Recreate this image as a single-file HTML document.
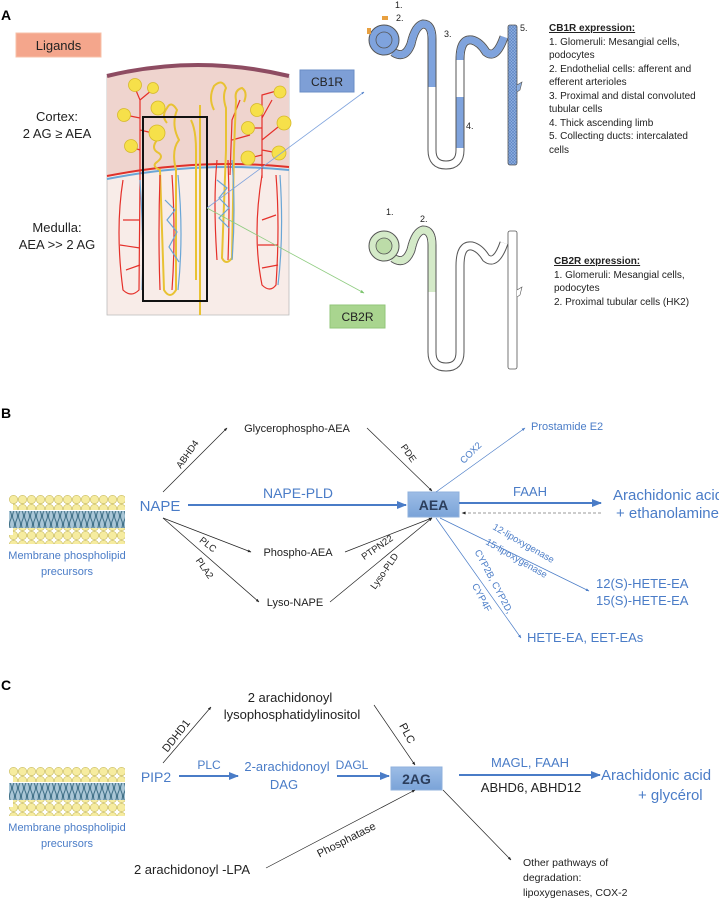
<!DOCTYPE html>
<html><head><meta charset="utf-8"><style>
html,body{margin:0;padding:0;background:#fff;}
svg{display:block;font-family:"Liberation Sans",sans-serif;}
</style></head><body>
<svg width="719" height="899" viewBox="0 0 719 899" xmlns="http://www.w3.org/2000/svg">
<defs>
<marker id="ab" viewBox="0 0 10 10" refX="9" refY="5" markerWidth="5" markerHeight="5" orient="auto"><path d="M0,1 L10,5 L0,9 z" fill="#222"/></marker>
<marker id="abl" viewBox="0 0 10 10" refX="9" refY="5" markerWidth="5" markerHeight="5" orient="auto"><path d="M0,1 L10,5 L0,9 z" fill="#4a7cc7"/></marker>
<marker id="abl2" viewBox="0 0 10 10" refX="9" refY="5" markerWidth="3.5" markerHeight="3.5" orient="auto"><path d="M0,1 L10,5 L0,9 z" fill="#4a7cc7"/></marker>
<marker id="ag" viewBox="0 0 10 10" refX="9" refY="5" markerWidth="5" markerHeight="5" orient="auto"><path d="M0,1 L10,5 L0,9 z" fill="#7cc46e"/></marker>
<pattern id="heads" width="9" height="9" patternUnits="userSpaceOnUse"><circle cx="4.5" cy="4.5" r="4.2" fill="#f6eca0" stroke="#c8bb60" stroke-width="0.6"/></pattern>
<pattern id="tails" width="6" height="17" patternUnits="userSpaceOnUse"><rect width="6" height="17" fill="#a9c6d6"/><path d="M1.5,0 q2,4 0,8 q-2,4 0,9 M4.5,0 q-2,4 0,8 q2,4 0,9" stroke="#3f6f86" stroke-width="1" fill="none"/></pattern>
<pattern id="hatch" width="3" height="3" patternUnits="userSpaceOnUse"><rect width="3" height="3" fill="#8fb0e0"/><path d="M0,0 L3,3 M3,0 L0,3" stroke="#5b82c2" stroke-width="0.6"/></pattern>
<linearGradient id="gbox" x1="0" y1="0" x2="0" y2="1"><stop offset="0" stop-color="#9dbde6"/><stop offset="1" stop-color="#7aa3d8"/></linearGradient>
<g id="mem">
<rect x="0" y="0" width="116" height="9" fill="url(#heads)"/>
<rect x="4" y="6" width="112" height="9" fill="url(#heads)"/>
<rect x="0" y="16" width="116" height="17" fill="url(#tails)"/>
<rect x="4" y="33" width="112" height="9" fill="url(#heads)"/>
<rect x="0" y="40" width="116" height="9" fill="url(#heads)"/>
</g>
</defs>

<!-- ============ SECTION A ============ -->
<text x="1" y="20" font-size="14" font-weight="bold">A</text>
<rect x="16" y="33" width="85" height="24" fill="#f4a68c" stroke="#f7c0a8"/>
<text x="58.5" y="50" font-size="13" text-anchor="middle" fill="#222">Ligands</text>
<text x="57" y="121" font-size="13" text-anchor="middle" fill="#222">Cortex:</text>
<text x="57" y="138" font-size="13" text-anchor="middle" fill="#222">2 AG ≥ AEA</text>
<text x="57" y="232" font-size="13" text-anchor="middle" fill="#222">Medulla:</text>
<text x="57" y="249" font-size="13" text-anchor="middle" fill="#222">AEA &gt;&gt; 2 AG</text>

<path d="M107,76 Q198,54 289,76 L289,315 L107,315 Z" fill="#f8ece8" stroke="#bbb" stroke-width="0.8"/>
<path d="M107,76 Q198,54 289,76 L289,168 Q198,160 107,177 Z" fill="#efd4ce"/>
<path d="M107,76 Q198,54 289,76" stroke="#8e4c62" stroke-width="4" fill="none"/>
<path d="M107,176 Q198,158 289,167" stroke="#e0312a" stroke-width="2" fill="none"/>
<path d="M107,179 Q198,161 289,170" stroke="#6aa6d6" stroke-width="2" fill="none"/>
<g stroke="#e5302a" stroke-width="1.2" fill="none">
<path d="M140,180 L140,100 L135,88 M140,100 L152,90 M140,118 L125,115 M140,130 L157,134 M140,150 L131,147"/>
<path d="M262,178 L262,95 L280,90 M262,110 L256,110 M262,128 L249,128 M262,140 L283,123 M262,155 L249,158 M262,150 L278,153 M262,118 L272,100"/>
<path d="M230,175 L232,120 L240,100 M232,140 L250,135"/>
</g>
<g stroke="#e8c233" stroke-width="2" fill="none">
<path d="M157,140 q-6,8 0,12 q8,4 0,10 q-6,4 3,8 L164,290 q6,10 12,0 L176,170 q-5,-20 3,-30 q-8,-15 -2,-30 q-6,-10 -10,-2 q-6,8 0,15"/>
<path d="M196,280 L196,150 q0,-20 -5,-30 M200,315 L200,105"/>
<path d="M214,110 q-6,-12 0,-24 q8,-8 12,2 q-4,8 0,20 L226,150 L222,258 q4,8 10,0 L234,150 L236,100 q-2,-10 6,-12 q6,4 2,14"/>
</g>
<g fill="#f6e04a" stroke="#d6b92a" stroke-width="0.8">
<circle cx="135" cy="85" r="6.5"/><circle cx="153" cy="88" r="5.5"/><circle cx="124" cy="115" r="6.5"/><circle cx="158" cy="108" r="7"/>
<circle cx="157" cy="133" r="8"/><circle cx="131" cy="146" r="6.5"/><circle cx="280" cy="92" r="6"/><circle cx="257" cy="110" r="6.5"/>
<circle cx="248" cy="128" r="6.5"/><circle cx="284" cy="123" r="7"/><circle cx="248" cy="158" r="7"/><circle cx="279" cy="153" r="7"/>
</g>
<g fill="none" stroke-width="1.2">
<path d="M123,180 q-8,50 0,110 q8,8 16,0 L140,180" stroke="#e5302a"/>
<path d="M140,180 q4,60 2,110" stroke="#6aa6d6"/>
<path d="M123,220 L140,220 M120,245 L140,248 M126,270 L140,265" stroke="#e5302a"/>
<path d="M160,175 q-2,60 0,115 M172,175 q4,60 0,115" stroke="#e5302a"/>
<path d="M178,175 q6,60 0,115 M165,200 l10,10 l-8,10 l10,12 l-8,15 l10,15" stroke="#6aa6d6"/>
<path d="M217,160 q-4,40 0,100 M228,160 q2,50 0,100" stroke="#e5302a"/>
<path d="M232,160 q4,50 0,100 M217,180 l10,8 l-8,10 l10,10 l-10,10 l10,10" stroke="#6aa6d6"/>
<path d="M262,175 q-10,60 0,110 q8,8 14,0 q4,-60 0,-110" stroke="#e5302a"/>
<path d="M280,175 q4,60 -2,110" stroke="#6aa6d6"/>
<path d="M262,220 L276,215 M258,245 L278,245 M262,268 L278,265" stroke="#e5302a"/>
</g>
<rect x="143" y="117" width="64" height="184" fill="none" stroke="#111" stroke-width="2"/>

<line x1="207" y1="208" x2="364" y2="92" stroke="#7fa3dd" stroke-width="0.8" marker-end="url(#abl2)"/>
<line x1="207" y1="208" x2="364" y2="293" stroke="#8fcc80" stroke-width="0.8" marker-end="url(#ag)"/>
<rect x="300" y="70" width="54" height="22" fill="#7e9fd6" stroke="#6a8cc6"/>
<text x="327" y="86" font-size="12" text-anchor="middle" fill="#222">CB1R</text>
<rect x="330" y="305" width="55" height="23" fill="#a9d58f" stroke="#92c67a"/>
<text x="357.5" y="321" font-size="12" text-anchor="middle" fill="#222">CB2R</text>

<!-- CB1R nephron -->
<g font-size="9" fill="#222">
<text x="395" y="8">1.</text><text x="396" y="21">2.</text><text x="444" y="37">3.</text><text x="466" y="129">4.</text><text x="520" y="31">5.</text>
</g>
<g fill="none">
<path d="M393,52 q12,8 18,-8 q4,-18 12,-20 q9,0 9,15 L432,150 q0,15 14,15 q14,0 14,-15 L460,60 q0,-22 12,-20 q8,2 14,12 q10,8 18,-15" stroke="#555" stroke-width="9"/>
<path d="M393,52 q12,8 18,-8 q4,-18 12,-20 q9,0 9,15 L432,150 q0,15 14,15 q14,0 14,-15 L460,60 q0,-22 12,-20 q8,2 14,12 q10,8 18,-15" stroke="#fff" stroke-width="7"/>
<path d="M393,52 q12,8 18,-8 q4,-18 12,-20 q9,0 9,15 L432,87" stroke="#7fa3dd" stroke-width="7"/>
<path d="M460,148 L460,97" stroke="#7fa3dd" stroke-width="7"/>
<path d="M460,60 q0,-22 12,-20 q8,2 14,12 q10,8 18,-15" stroke="#7fa3dd" stroke-width="7"/>
</g>
<circle cx="384" cy="40" r="15" fill="#7fa3dd" stroke="#555" stroke-width="1"/>
<circle cx="384" cy="40" r="8" fill="#7fa3dd" stroke="#555" stroke-width="0.8"/>
<rect x="382" y="16" width="6" height="4" fill="#e8a040"/><rect x="367" y="28" width="4" height="6" fill="#e8a040"/>
<rect x="508" y="25" width="9" height="140" rx="2" fill="url(#hatch)" stroke="#555" stroke-width="0.8"/>
<path d="M517,85 l5,-3 l-2,8 l-3,2" fill="#8fb0e0" stroke="#555" stroke-width="0.6"/>

<g font-size="10" fill="#222">
<text x="549" y="31" font-weight="bold" text-decoration="underline">CB1R expression:</text>
<text x="549" y="45">1. Glomeruli: Mesangial cells,</text>
<text x="549" y="58">podocytes</text>
<text x="549" y="72">2. Endothelial cells: afferent and</text>
<text x="549" y="85">efferent arterioles</text>
<text x="549" y="99">3. Proximal and distal convoluted</text>
<text x="549" y="112">tubular cells</text>
<text x="549" y="126">4. Thick ascending limb</text>
<text x="549" y="139">5. Collecting ducts: intercalated</text>
<text x="549" y="153">cells</text>
</g>

<!-- CB2R nephron -->
<g font-size="9" fill="#222"><text x="386" y="215">1.</text><text x="420" y="222">2.</text></g>
<g fill="none">
<path d="M393,258 q12,8 18,-8 q4,-18 12,-20 q9,0 9,15 L432,352 q0,15 14,15 q14,0 14,-15 L460,266 q0,-22 12,-20 q8,2 14,12 q10,8 18,-15" stroke="#555" stroke-width="9"/>
<path d="M393,258 q12,8 18,-8 q4,-18 12,-20 q9,0 9,15 L432,352 q0,15 14,15 q14,0 14,-15 L460,266 q0,-22 12,-20 q8,2 14,12 q10,8 18,-15" stroke="#fff" stroke-width="7"/>
<path d="M393,258 q12,8 18,-8 q4,-18 12,-20 q9,0 9,15 L432,292" stroke="#d4eac8" stroke-width="7"/>
</g>
<circle cx="384" cy="246" r="15" fill="#d4eac8" stroke="#555" stroke-width="1"/>
<circle cx="384" cy="246" r="8" fill="#bcdca8" stroke="#555" stroke-width="0.8"/>
<rect x="508" y="231" width="9" height="138" rx="2" fill="#fff" stroke="#555" stroke-width="0.8"/>
<path d="M517,290 l5,-3 l-2,8 l-3,2" fill="#fff" stroke="#555" stroke-width="0.6"/>
<g font-size="10" fill="#222">
<text x="554" y="264" font-weight="bold" text-decoration="underline">CB2R expression:</text>
<text x="554" y="278">1. Glomeruli: Mesangial cells,</text>
<text x="554" y="291">podocytes</text>
<text x="554" y="305">2. Proximal tubular cells (HK2)</text>
</g>

<!-- ============ SECTION B ============ -->
<text x="1" y="418" font-size="14" font-weight="bold">B</text>
<use href="#mem" x="9" y="495"/>
<text x="67" y="559" font-size="11" text-anchor="middle" fill="#4a7cc7">Membrane phospholipid</text>
<text x="67" y="575" font-size="11" text-anchor="middle" fill="#4a7cc7">precursors</text>
<text x="160" y="511" font-size="15" text-anchor="middle" fill="#4a7cc7">NAPE</text>

<line x1="188" y1="505" x2="406" y2="505" stroke="#4a7cc7" stroke-width="2" marker-end="url(#abl)"/>
<text x="298" y="498" font-size="14" text-anchor="middle" fill="#4a7cc7">NAPE-PLD</text>
<rect x="408" y="492" width="51" height="25" fill="url(#gbox)" stroke="#8fb0dc"/>
<text x="433.5" y="510" font-size="14" font-weight="bold" text-anchor="middle" fill="#2c3e5c">AEA</text>
<line x1="459" y1="503" x2="601" y2="503" stroke="#4a7cc7" stroke-width="2" marker-end="url(#abl)"/>
<text x="530" y="496" font-size="13" text-anchor="middle" fill="#4a7cc7">FAAH</text>
<line x1="601" y1="513" x2="462" y2="513" stroke="#777" stroke-width="0.8" stroke-dasharray="3,2" marker-end="url(#ab)"/>
<text x="613" y="500" font-size="15" fill="#4a7cc7">Arachidonic acid</text>
<text x="616" y="518" font-size="15" fill="#4a7cc7">+ ethanolamine</text>

<g stroke="#222" stroke-width="0.7" fill="none" marker-end="url(#ab)">
<line x1="163" y1="492" x2="227" y2="428"/>
<line x1="367" y1="428" x2="432" y2="491"/>
<line x1="163" y1="518" x2="251" y2="552"/>
<line x1="163" y1="518" x2="259" y2="602"/>
<line x1="345" y1="552" x2="432" y2="518"/>
<line x1="330" y1="602" x2="432" y2="518"/>
</g>
<g stroke="#4a7cc7" stroke-width="0.7" fill="none" marker-end="url(#abl)">
<line x1="436" y1="492" x2="525" y2="428"/>
<line x1="440" y1="518" x2="589" y2="591"/>
<line x1="436" y1="518" x2="521" y2="638"/>
</g>
<text x="297" y="432" font-size="11" text-anchor="middle" fill="#222">Glycerophospho-AEA</text>
<text x="531" y="430" font-size="11" fill="#4a7cc7">Prostamide E2</text>
<text x="298" y="556" font-size="11" text-anchor="middle" fill="#222">Phospho-AEA</text>
<text x="295" y="606" font-size="11" text-anchor="middle" fill="#222">Lyso-NAPE</text>
<text x="596" y="588" font-size="13" fill="#4a7cc7">12(S)-HETE-EA</text>
<text x="596" y="605" font-size="13" fill="#4a7cc7">15(S)-HETE-EA</text>
<text x="527" y="642" font-size="13" fill="#4a7cc7">HETE-EA, EET-EAs</text>
<g font-size="9.5" text-anchor="middle">
<text transform="translate(190,456) rotate(-55)" fill="#222">ABHD4</text>
<text transform="translate(406,455) rotate(55)" fill="#222">PDE</text>
<text transform="translate(473,455) rotate(-45)" fill="#4a7cc7">COX2</text>
<text transform="translate(206,547) rotate(38)" fill="#222">PLC</text>
<text transform="translate(202,570) rotate(55)" fill="#222">PLA2</text>
<text transform="translate(379,550) rotate(-35)" fill="#222">PTPN22</text>
<text transform="translate(387,573) rotate(-55)" fill="#222">Lyso-PLD</text>
<text transform="translate(522,546) rotate(30)" fill="#4a7cc7">12-lipoxygenase</text>
<text transform="translate(515,561) rotate(30)" fill="#4a7cc7">15-lipoxygenase</text>
<text transform="translate(491,583) rotate(62)" fill="#4a7cc7">CYP2B, CYP2D,</text>
<text transform="translate(479,599) rotate(62)" fill="#4a7cc7">CYP4F</text>
</g>

<!-- ============ SECTION C ============ -->
<text x="1" y="690" font-size="14" font-weight="bold">C</text>
<use href="#mem" x="9" y="767"/>
<text x="67" y="831" font-size="11" text-anchor="middle" fill="#4a7cc7">Membrane phospholipid</text>
<text x="67" y="847" font-size="11" text-anchor="middle" fill="#4a7cc7">precursors</text>
<text x="156" y="782" font-size="14" text-anchor="middle" fill="#4a7cc7">PIP2</text>
<line x1="179" y1="776" x2="238" y2="776" stroke="#4a7cc7" stroke-width="2" marker-end="url(#abl)"/>
<text x="209" y="769" font-size="12" text-anchor="middle" fill="#4a7cc7">PLC</text>
<text x="287" y="771" font-size="13" text-anchor="middle" fill="#4a7cc7">2-arachidonoyl</text>
<text x="284" y="789" font-size="13" text-anchor="middle" fill="#4a7cc7">DAG</text>
<line x1="337" y1="776" x2="389" y2="776" stroke="#4a7cc7" stroke-width="2" marker-end="url(#abl)"/>
<text x="352" y="769" font-size="12" text-anchor="middle" fill="#4a7cc7">DAGL</text>
<rect x="391" y="767" width="51" height="23" fill="url(#gbox)" stroke="#8fb0dc"/>
<text x="416.5" y="784" font-size="14" font-weight="bold" text-anchor="middle" fill="#2c3e5c">2AG</text>
<line x1="459" y1="775" x2="600" y2="775" stroke="#4a7cc7" stroke-width="2" marker-end="url(#abl)"/>
<text x="530" y="767" font-size="13" text-anchor="middle" fill="#4a7cc7">MAGL, FAAH</text>
<text x="531" y="792" font-size="13" text-anchor="middle" fill="#222">ABHD6, ABHD12</text>
<text x="601" y="780" font-size="15" fill="#4a7cc7">Arachidonic acid</text>
<text x="638" y="800" font-size="15" fill="#4a7cc7">+ glycérol</text>

<text x="290" y="702" font-size="13" text-anchor="middle" fill="#222">2 arachidonoyl</text>
<text x="292" y="719" font-size="13" text-anchor="middle" fill="#222">lysophosphatidylinositol</text>
<text x="192" y="874" font-size="13" text-anchor="middle" fill="#222">2 arachidonoyl -LPA</text>
<text x="523" y="866" font-size="10.5" fill="#222">Other pathways of</text>
<text x="523" y="881" font-size="10.5" fill="#222">degradation:</text>
<text x="523" y="896" font-size="10.5" fill="#222">lipoxygenases, COX-2</text>
<g stroke="#222" stroke-width="0.7" fill="none" marker-end="url(#ab)">
<line x1="163" y1="763" x2="211" y2="707"/>
<line x1="374" y1="705" x2="415" y2="765"/>
<line x1="266" y1="868" x2="415" y2="790"/>
<line x1="443" y1="790" x2="511" y2="860"/>
</g>
<g font-size="11" text-anchor="middle" fill="#222">
<text transform="translate(179,738) rotate(-52)">DDHD1</text>
<text transform="translate(404,735) rotate(62)">PLC</text>
<text transform="translate(348,843) rotate(-27)">Phosphatase</text>
</g>
</svg>
</body></html>
